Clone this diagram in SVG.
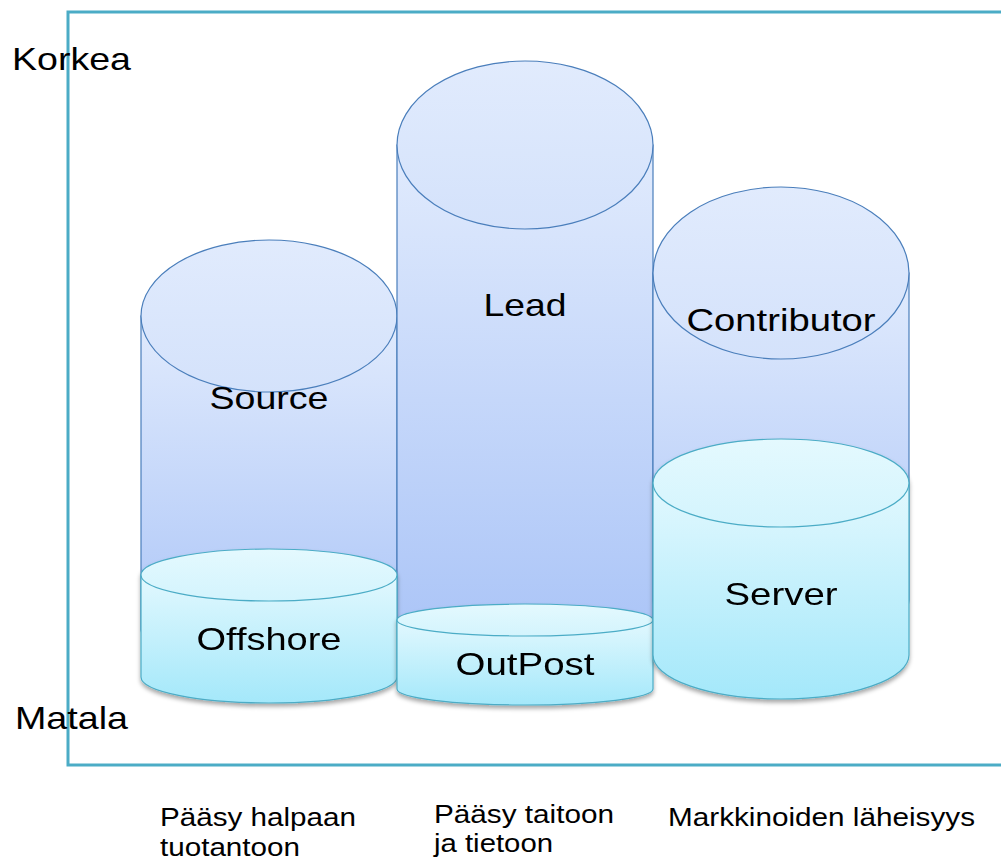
<svg xmlns="http://www.w3.org/2000/svg" width="1001" height="859" viewBox="0 0 1001 859">
<defs>
<linearGradient id="gBlue" x1="0" y1="0" x2="0" y2="1">
<stop offset="0" stop-color="#e1ebfd"/>
<stop offset="1" stop-color="#aac4f7"/>
</linearGradient>
<linearGradient id="gBlueTop" x1="0" y1="0" x2="0" y2="1">
<stop offset="0" stop-color="#e1ebfd"/>
<stop offset="1" stop-color="#d4e2fb"/>
</linearGradient>
<linearGradient id="gCyan" x1="0" y1="0" x2="0" y2="1">
<stop offset="0" stop-color="#e2f8fe"/>
<stop offset="1" stop-color="#a4e8fa"/>
</linearGradient>
<linearGradient id="gCyanTop" x1="0" y1="0" x2="0" y2="1">
<stop offset="0" stop-color="#e4f9fe"/>
<stop offset="1" stop-color="#d3f4fd"/>
</linearGradient>
<filter id="sh" x="-10%" y="-10%" width="120%" height="130%">
<feDropShadow dx="0" dy="3" stdDeviation="2" flood-color="#000" flood-opacity="0.35"/>
</filter>
</defs>
<style>
.frame{fill:none;stroke:#4bacc6;stroke-width:3}
.bb{fill:url(#gBlue);stroke:#4a7ebb;stroke-width:1.2}
.bt{fill:url(#gBlueTop);stroke:#4a7ebb;stroke-width:1.2}
.cb{fill:url(#gCyan);stroke:#4bacc6;stroke-width:1.2}
.ct{fill:url(#gCyanTop);stroke:#4bacc6;stroke-width:1.2}
.lbl{font-family:"Liberation Sans",Arial,sans-serif;font-size:32px;fill:#000;text-anchor:middle}
.side{font-family:"Liberation Sans",Arial,sans-serif;font-size:32px;fill:#000}
.cap{font-family:"Liberation Sans",Arial,sans-serif;font-size:25px;fill:#000}
</style>
<rect class="frame" x="68" y="12" width="1000" height="753"/>
<g id="source">
<path class="bb" d="M141,316 L141,630 A128,26 0 0 0 397,630 L397,316 Z"/>
<ellipse class="bt" cx="269" cy="316" rx="128" ry="76"/>
<text class="lbl" x="269" y="409" textLength="119" lengthAdjust="spacingAndGlyphs">Source</text>
</g>
<g id="lead">
<path class="bb" d="M397,145 L397,630 A128,16 0 0 0 653,630 L653,145 Z"/>
<ellipse class="bt" cx="525" cy="145" rx="128" ry="84"/>
<text class="lbl" x="525" y="316" textLength="83" lengthAdjust="spacingAndGlyphs">Lead</text>
</g>
<g id="contributor">
<path class="bb" d="M653,273 L653,600 A128,44 0 0 0 909,600 L909,273 Z"/>
<ellipse class="bt" cx="781" cy="273" rx="128" ry="86"/>
<text class="lbl" x="781" y="331" textLength="189" lengthAdjust="spacingAndGlyphs">Contributor</text>
</g>
<g id="offshore" filter="url(#sh)">
<path class="cb" d="M141,575 L141,677 A128,26 0 0 0 397,677 L397,575 Z"/>
<ellipse class="ct" cx="269" cy="575" rx="128" ry="26"/>
<text class="lbl" x="269" y="650" textLength="145" lengthAdjust="spacingAndGlyphs">Offshore</text>
</g>
<g id="outpost" filter="url(#sh)">
<path class="cb" d="M397,620 L397,689 A128,16 0 0 0 653,689 L653,620 Z"/>
<ellipse class="ct" cx="525" cy="620" rx="128" ry="16"/>
<text class="lbl" x="525" y="675" textLength="139" lengthAdjust="spacingAndGlyphs">OutPost</text>
</g>
<g id="server" filter="url(#sh)">
<path class="cb" d="M653,483 L653,655 A128,44 0 0 0 909,655 L909,483 Z"/>
<ellipse class="ct" cx="781" cy="483" rx="128" ry="44"/>
<text class="lbl" x="781" y="605" textLength="113" lengthAdjust="spacingAndGlyphs">Server</text>
</g>
<g id="axis-labels">
<text class="side" x="12" y="70" textLength="119" lengthAdjust="spacingAndGlyphs">Korkea</text>
<text class="side" x="15" y="729" textLength="113" lengthAdjust="spacingAndGlyphs">Matala</text>
</g>
<g id="captions">
<text class="cap" x="160" y="826" textLength="196" lengthAdjust="spacingAndGlyphs">Pääsy halpaan</text>
<text class="cap" x="160" y="856" textLength="140" lengthAdjust="spacingAndGlyphs">tuotantoon</text>
<text class="cap" x="434" y="823" textLength="180" lengthAdjust="spacingAndGlyphs">Pääsy taitoon</text>
<text class="cap" x="434" y="852" textLength="119" lengthAdjust="spacingAndGlyphs">ja tietoon</text>
<text class="cap" x="668" y="826" textLength="307" lengthAdjust="spacingAndGlyphs">Markkinoiden läheisyys</text>
</g>
<g id="connectors"/>
</svg>
